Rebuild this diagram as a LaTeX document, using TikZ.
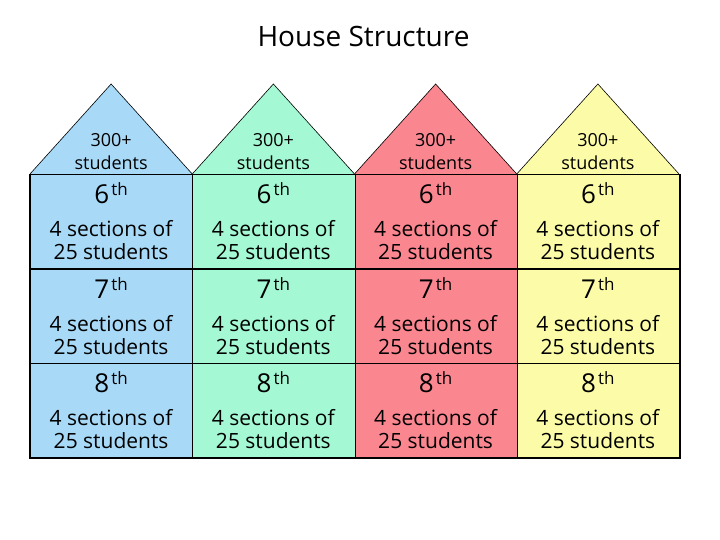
\documentclass[tikz,border=0pt]{standalone}
\usepackage{fontspec}
\setmainfont{Open Sans}
\definecolor{hblue}{RGB}{168,218,248}
\definecolor{hgreen}{RGB}{164,248,212}
\definecolor{hpink}{RGB}{250,134,144}
\definecolor{hyellow}{RGB}{252,252,168}
\tikzset{
  cellbox/.style={draw=black, line width=1.2pt, minimum width=162.25pt, minimum height=94.33pt, inner sep=0pt, anchor=north west},
  roofline/.style={draw=black, line width=0.6pt},
  gradetxt/.style={anchor=base, inner sep=0pt},
  rooftxt/.style={font=\fontsize{18}{22}\selectfont, inner sep=0pt},
  bodytxt/.style={font=\fontsize{21}{24}\selectfont, inner sep=0pt},
}
\begin{document}
\begin{tikzpicture}[x=1pt,y=-1pt]
\useasboundingbox (0,0) rectangle (720,540);
\node[font=\fontsize{28}{32}\selectfont, inner sep=0pt] (title) at (363.5,37) {House Structure};
\foreach \c/\col in {0/hblue,1/hgreen,2/hpink,3/hyellow}{
  \pgfmathsetmacro{\xl}{30+162.25*\c}
  \pgfmathsetmacro{\xr}{\xl+162.25}
  \pgfmathsetmacro{\xc}{\xl+81.125}
  \coordinate (apex\c) at (\xc,84);
  \coordinate (eaveL\c) at (\xl,174);
  \coordinate (eaveR\c) at (\xr,174);
  \fill[\col] (eaveL\c) -- (apex\c) -- (eaveR\c) -- cycle;
  \draw[roofline] (eaveL\c) -- (apex\c) -- (eaveR\c);
  \node[rooftxt] (roofa\c) at (\xc,140) {300+};
  \node[rooftxt] (roofb\c) at (\xc,163) {students};
  \foreach \r/\g in {0/6,1/7,2/8}{
    \pgfmathsetmacro{\yt}{174+94.33*\r}
    \node[cellbox, fill=\col] (cell\c\r) at (\xl,\yt) {};
    \node[gradetxt] (grade\c\r) at (\xc,\yt+30) {\fontsize{26}{30}\selectfont\g\kern2pt\raisebox{8pt}{\fontsize{17}{18}\selectfont th}};
    \node[bodytxt] (seca\c\r) at (\xc,\yt+55) {4 sections of};
    \node[bodytxt] (secb\c\r) at (\xc,\yt+78) {25 students};
  }
}
\draw[line width=1.6pt] (cell00.north west) -- (cell02.south west) -- (cell32.south east) -- (cell30.north east);
\end{tikzpicture}
\end{document}
